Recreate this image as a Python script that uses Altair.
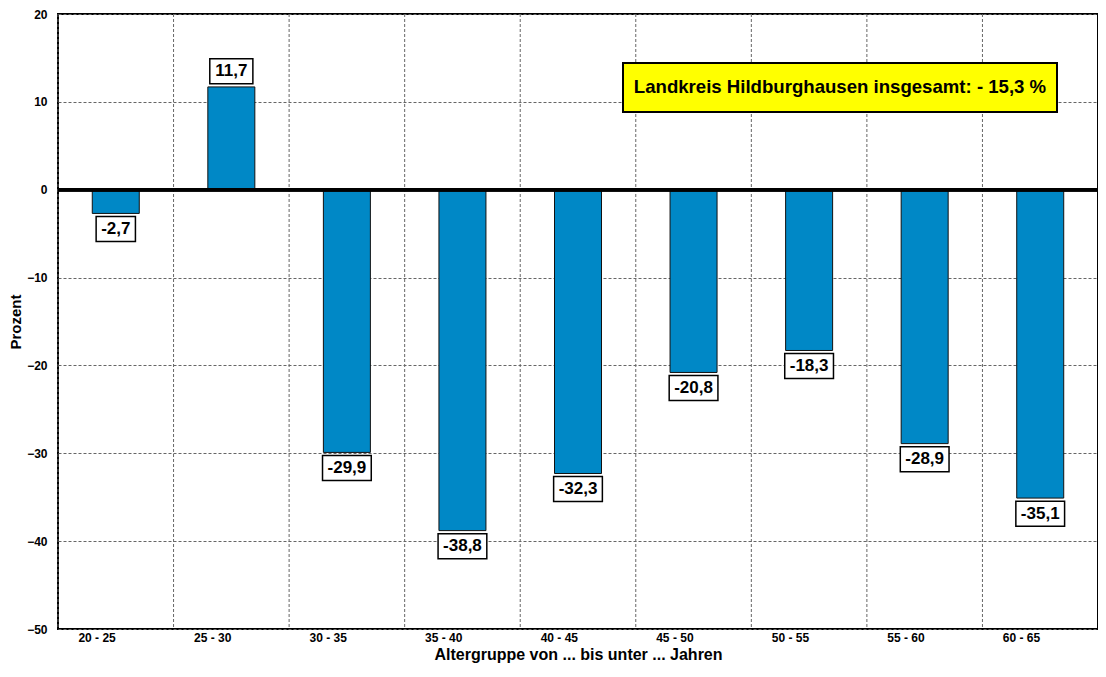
import altair as alt
import pandas as pd

categories = ["20 - 25", "25 - 30", "30 - 35", "35 - 40", "40 - 45",
              "45 - 50", "50 - 55", "55 - 60", "60 - 65"]
values = [-2.7, 11.7, -29.9, -38.8, -32.3, -20.8, -18.3, -28.9, -35.1]
labels = ["-2,7", "11,7", "-29,9", "-38,8", "-32,3", "-20,8", "-18,3", "-28,9", "-35,1"]
y_ticks = [-50, -40, -30, -20, -10, 0, 10, 20]
note = "Landkreis Hildburghausen insgesamt: - 15,3 %"

FONT = "Liberation Sans"

df = pd.DataFrame({"cat": categories, "v": values, "lab": labels})

xscale = alt.Scale(domain=categories, paddingInner=0, paddingOuter=0)
yscale = alt.Scale(domain=[-50, 20], nice=False, zero=False)

x_main = alt.X(
    "cat:N", sort=categories, scale=xscale,
    axis=alt.Axis(
        title="Altergruppe von ... bis unter ... Jahren", grid=False, ticks=False,
        domain=False, labelAngle=0, labelFont=FONT, labelFontWeight="bold",
        labelFontSize=12, labelColor="black", labelPadding=8,
        titleFont=FONT, titleFontWeight="bold", titleFontSize=16,
        titleColor="black", titlePadding=3,
    ),
)
y_main = alt.Y(
    "v:Q", scale=yscale,
    axis=alt.Axis(
        title="Prozent", values=y_ticks, grid=True, gridDash=[3, 2],
        gridColor="#666666", gridWidth=1, ticks=False, domain=False,
        labelFont=FONT, labelFontWeight="bold", labelFontSize=12,
        labelColor="black", labelPadding=11, titleFont=FONT,
        titleFontWeight="bold", titleFontSize=15, titleColor="black",
        titlePadding=3,
    ),
)

base = alt.Chart(df)

vgrid = base.mark_rule(color="#666666", strokeDash=[3, 2], strokeWidth=1).encode(
    x=alt.X("cat:N", sort=categories, scale=xscale, bandPosition=0),
)

bars = base.mark_bar(size=47, color="#0088C6", stroke="#111111", strokeWidth=1).encode(
    x=x_main,
    y=y_main,
    y2=alt.datum(0),
)

zero = base.mark_rule(color="black", strokeWidth=3).encode(
    y=alt.datum(0),
)

boxes = base.transform_calculate(
    neg="datum.v < 0 ? 1 : 0",
).transform_calculate(
    w="10 + 17 * (0.556 * (length(datum.lab) - 1 - datum.neg) + 0.278 + 0.333 * datum.neg)",
    b1="datum.v < 0 ? datum.v - 0.35 : datum.v + 0.35",
    b2="datum.v < 0 ? datum.v - 3.2 : datum.v + 3.2",
).mark_bar(color="white", stroke="black", strokeWidth=1.5).encode(
    x=alt.X("cat:N", sort=categories, scale=xscale),
    y=alt.Y("b1:Q", scale=yscale),
    y2="b2:Q",
    size=alt.Size("w:Q", scale=None, legend=None),
)

texts = base.transform_calculate(
    c="datum.v < 0 ? datum.v - 1.78 : datum.v + 1.78",
).mark_text(font=FONT, fontWeight="bold", fontSize=17, color="black",
            baseline="middle", align="center").encode(
    x=alt.X("cat:N", sort=categories, scale=xscale),
    y=alt.Y("c:Q", scale=yscale),
    text="lab:N",
)

note_df = pd.DataFrame({"t": [note]})
note_box = alt.Chart(note_df).mark_rect(color="#FFFF00", stroke="black", strokeWidth=2).encode(
    x=alt.value(565), x2=alt.value(999), y=alt.value(49), y2=alt.value(98),
)
note_text = alt.Chart(note_df).mark_text(
    font=FONT, fontWeight="bold", fontSize=18.6, color="black",
    align="center", baseline="middle",
).encode(x=alt.value(782), y=alt.value(73), text="t:N")

chart = alt.layer(vgrid, bars, zero, boxes, texts, note_box, note_text).properties(
    width=1040, height=615,
    autosize=alt.AutoSizeParams(type="none"),
    padding={"left": 50, "top": 6, "right": 0, "bottom": 40},
    background="white",
).configure_view(stroke="black", strokeWidth=2)

chart.save("out.html", embed_options={"renderer": "svg", "actions": False})
